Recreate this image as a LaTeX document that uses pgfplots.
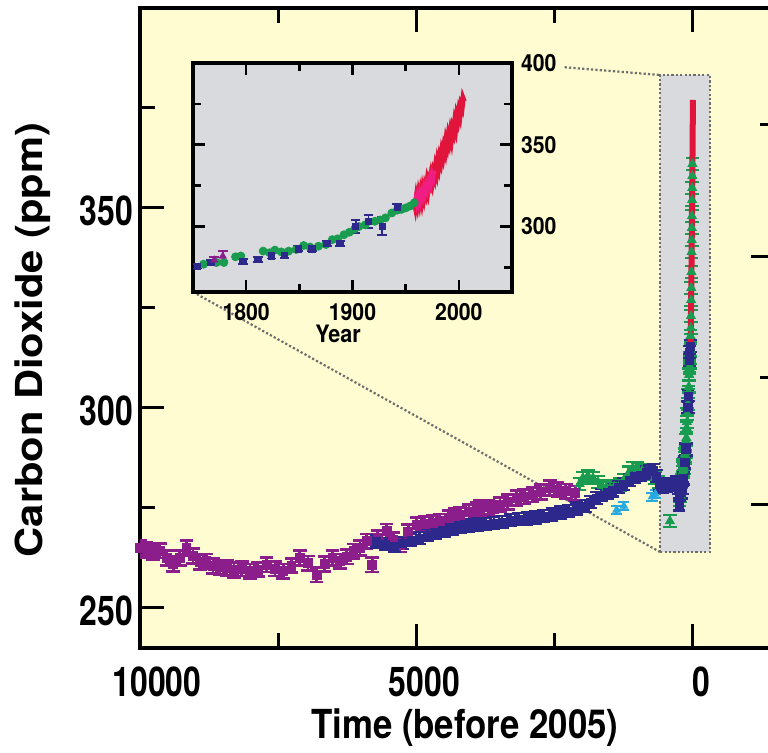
\documentclass[border=0pt]{standalone}
\usepackage{fontspec}
\setmainfont{TeX Gyre Heros}
\newfontfamily\condfont[FakeStretch=0.78]{TeX Gyre Heros}
\newfontfamily\labfont[FakeStretch=0.87]{TeX Gyre Heros}
\newfontfamily\widefont[FakeStretch=1.12]{TeX Gyre Heros}
\newfontfamily\insetfont[FakeStretch=0.9]{TeX Gyre Heros}
\usepackage{pgfplots}
\pgfplotsset{compat=1.18}
\definecolor{cream}{RGB}{254,252,208}
\definecolor{insetgrey}{RGB}{216,218,222}
\definecolor{cpurple}{RGB}{140,30,140}
\definecolor{cnavy}{RGB}{45,40,140}
\definecolor{cgreen}{RGB}{25,155,80}
\definecolor{ccyan}{RGB}{40,170,225}
\definecolor{cred}{RGB}{225,20,60}
\definecolor{cpink}{RGB}{240,30,130}
\definecolor{dotgrey}{RGB}{110,110,110}
\begin{document}
\begin{tikzpicture}
\path[use as bounding box, clip] (0,0) rectangle (384pt,376.5pt);
% ---------------- main axis ----------------
\begin{axis}[
  name=main, at={(70pt,52.5pt)}, anchor=south west,
  scale only axis, width=318.5pt, height=320pt,
  x dir=reverse, xmin=-1520, xmax=10000, ymin=240, ymax=400,
  axis background/.style={fill=cream},
  axis line style={line width=2pt},
  xtick={10000,5000,0}, xticklabels={\hspace*{9pt}10000,5000,0},
  minor xtick={7500,2500},
  ytick={250,300,350}, minor ytick={275,325,375},
  ytick pos=left,
  tick align=inside,
  major tick length=12pt, minor tick length=7.5pt,
  every tick/.style={black, line width=1.5pt},
  tick label style={font=\condfont\bfseries\fontsize{20.5}{24}\selectfont},
  /pgf/number format/assume math mode=true,
  xticklabel style={anchor=base, yshift=-24.5pt, xshift=4pt},
  yticklabel style={yshift=-1.5pt},
  xlabel={Time (before 2005)}, ylabel={Carbon Dioxide (ppm)},
  xlabel style={font=\labfont\bfseries\fontsize{20}{24}\selectfont, inner sep=0pt,
    at={(axis description cs:0.51,0)}, anchor=base, yshift=-45.5pt},
  ylabel style={font=\widefont\bfseries\fontsize{18.6}{22}\selectfont, inner sep=0pt,
    at={(axis description cs:-0.168,0.481)}, anchor=center},
]
\fill[insetgrey] (axis cs:596,264) rectangle (axis cs:-308,383.25);
\draw[dotgrey, line width=1.1pt, dash pattern=on 1.1pt off 1.1pt] (axis cs:596,264) rectangle (axis cs:-308,383.25);
\draw[dotgrey, line width=1.1pt, dash pattern=on 1.1pt off 1.1pt] (axis cs:3272,386.25) -- (axis cs:596,383.25);
\draw[dotgrey, line width=1.1pt, dash pattern=on 1.1pt off 1.1pt] (axis cs:9041,329) -- (axis cs:596,264);
% purple series
\addplot[only marks, mark=square*, mark size=2.2pt, cpurple,
  error bars/.cd, y dir=both, y fixed=1.8,
  error bar style={line width=1.4pt},
  error mark options={rotate=90, line width=1.4pt, mark size=3.4pt}]
coordinates {
(10000,265.0) (9880,264.5) (9760,264.0) (9640,264.3) (9520,262.5) (9400,261.0)
(9280,262.5) (9160,265.0) (9040,263.0) (8920,261.5) (8800,261.7) (8680,260.5)
(8560,260.2) (8430,260.0) (8300,259.5) (8160,259.8) (8010,259.2) (7870,259.6)
(7710,260.8) (7560,259.8) (7410,259.2) (7260,260.6) (7110,262.5) (6960,261.2)
(6805,258.3) (6660,261.0) (6520,262.5) (6380,261.7) (6260,262.8) (6140,264.2)
(6020,265.0) (5900,266.7) (5800,260.8) (5700,267.5) (5540,269.2) (5420,267.0)
(5300,265.8) (5150,269.0) (5000,270.8) (4850,271.0) (4700,271.3) (4575,271.7)
(4420,272.5) (4300,273.0) (4210,273.3) (4050,274.0) (3900,274.5) (3850,275.0)
(3700,275.2) (3600,274.8) (3490,275.8) (3350,276.5) (3190,277.5) (3050,277.8)
(2900,278.3) (2750,279.0) (2590,280.0) (2450,279.6) (2300,279.2) (2130,278.7)
};
% light blue series
\addplot[only marks, mark=triangle*, mark size=2.2pt, ccyan,
  error bars/.cd, y dir=both, y fixed=1.0,
  error bar style={line width=1.2pt},
  error mark options={rotate=90, line width=1.2pt, mark size=2.8pt}]
coordinates {(1380,274.5) (1250,275.5) (740,277.8) (680,278.5)};
% green series
\addplot[only marks, mark=triangle*, mark size=2.6pt, cgreen,
  error bars/.cd, y dir=both, y fixed=1.5,
  error bar style={line width=1.3pt},
  error mark options={rotate=90, line width=1.3pt, mark size=3.4pt}]
coordinates {
(2050,281.0) (1990,282.5) (1900,283.0) (1808,282.5) (1720,281.5) (1640,280.5)
(1560,280.0) (1500,280.0) (1420,280.3) (1320,280.8) (1250,282.0) (1160,283.8)
(1085,285.0) (1000,284.8) (920,284.3) (832,284.0) (760,283.5) (690,282.5)
(620,281.5) (416,271.7)
(245,277) (233,278) (226,278) (215,281.5) (210,282) (189,285) (183,284)
(178,285.6) (172,284.5) (165,285) (158,286) (151,288.4) (145,287.5) (137,288)
(130,289) (124,292) (119,292.5) (113,295) (108,296.5) (103,298.5) (99,300)
(93,301) (84,303.2) (79,304) (74,305.3) (68,308.3) (63,310) (59,310.5)
(55,311.4) (51,312.5) (47,314.5)
(43,318) (39,320) (36,323) (33,327) (30,330) (27,334) (24,339) (22,342)
(20,345) (18,348) (15,352) (13,355) (11,358) (9,361)
};
% navy series
\addplot[only marks, mark=square*, mark size=2pt, cnavy,
  error bars/.cd, y dir=both, y fixed=1.5,
  error bar style={line width=1.3pt},
  error mark options={rotate=90, line width=1.3pt, mark size=3.2pt}]
coordinates {
(5720,266.6) (5560,266.0) (5400,265.5) (5250,266.2) (5100,267.0) (4950,267.5)
(4800,268.2) (4650,268.8) (4500,269.3) (4350,269.8) (4200,270.3) (4050,270.6)
(3900,270.8) (3750,271.0) (3600,271.2) (3450,271.5) (3300,272.0) (3150,272.2)
(3000,272.4) (2850,272.6) (2700,273.0) (2550,273.4) (2400,273.8) (2250,274.2)
(2100,274.8) (1950,275.5) (1850,276.5) (1750,277.5) (1650,278.2) (1550,278.8)
(1450,279.3) (1350,280.2) (1250,281.0) (1150,282.0) (1050,282.8) (950,283.2)
(850,283.8) (780,284.2) (720,284.5) (660,283.0) (600,280.8) (540,280.3)
(480,280.5) (420,281.0) (360,280.8) (300,281.5) (270,280.0)
(251,275.8) (238,278.2) (208,278.8) (194,280) (181,282) (169,282.3) (156,286.4)
(143,286.4) (129,289.6) (117,289.6) (102,300.2) (90,303) (77,300.2) (63,312)
(55,314) (50,315.5)
};
% instrumental record
\addplot[cred, line width=3pt] coordinates {
(47,313.8) (45,315.4) (40,318.5) (35,324.2) (30,329.6) (25,337.3) (20,344.9)
(15,353.0) (10,359.5) (5,368.2) (0,377.0)
};
\end{axis}
% ---------------- right-hand ticks ----------------
\begin{axis}[
  at={(70pt,52.5pt)}, anchor=south west,
  scale only axis, width=318.5pt, height=320pt,
  xmin=-1520, xmax=10000, ymin=240, ymax=400,
  hide x axis, xtick=\empty, xticklabels={},
  axis y line*=right,
  axis line style={line width=2pt},
  ytick={275.75,337.75}, minor ytick={307.5,370.75}, yticklabels={},
  tick align=inside, major tick length=13pt, minor tick length=8.5pt,
  every tick/.style={black, line width=1.5pt},
]
\addplot[draw=none] coordinates {(0,300)};
\end{axis}
% ---------------- inset ----------------
\begin{axis}[
  at={(96.5pt,230.5pt)}, anchor=south west,
  scale only axis, width=159.5pt, height=114.5pt,
  xmin=1750, xmax=2050, ymin=260, ymax=400,
  axis background/.style={fill=insetgrey},
  axis line style={line width=1.6pt},
  xtick={1800,1900,2000}, minor xtick={1850,1950},
  ytick={300,350,400}, minor ytick={275,325,375},
  yticklabel pos=right,
  tick align=inside, major tick length=6pt, minor tick length=4pt,
  every tick/.style={black, line width=1.3pt},
  tick label style={font=\insetfont\bfseries\fontsize{11.8}{14}\selectfont},
  /pgf/number format/assume math mode=true,
  /pgf/number format/1000 sep={},
  xticklabel style={anchor=base, yshift=-14.2pt},
  yticklabel style={fill=cream, xshift=1pt},
  xlabel={Year},
  xlabel style={font=\insetfont\bfseries\fontsize{12}{14}\selectfont, at={(axis description cs:0.455,0)}, anchor=base, yshift=-25.5pt},
]
\addplot[only marks, mark=*, mark size=2pt, cgreen] coordinates {
(1760,277) (1772,278) (1779,278) (1790,281.5) (1795,282) (1816,285) (1822,284)
(1827,285.6) (1833,284.5) (1840,285) (1847,286) (1854,288.4) (1860,287.5)
(1868,288) (1875,289) (1881,292) (1886,292.5) (1892,295) (1897,296.5)
(1902,298.5) (1906,300) (1912,301) (1921,303.2) (1926,304) (1931,305.3)
(1937,308.3) (1942,310) (1946,310.5) (1950,311.4) (1954,312.5) (1958,314.5)
};
\addplot[only marks, mark=square*, mark size=1.6pt, cnavy,
  error bars/.cd, y dir=both, y explicit,
  error bar style={line width=0.9pt},
  error mark options={rotate=90, line width=0.9pt, mark size=2.4pt}]
coordinates {
(1754,275.8) +- (0,1.5) (1767,278.2) +- (0,1.5) (1797,278.8) +- (0,1.5)
(1811,280) +- (0,1.5) (1824,282) +- (0,1.5) (1836,282.3) +- (0,1.5)
(1849,286.4) +- (0,1.5) (1862,286.4) +- (0,1.5) (1876,289.6) +- (0,1.5)
(1888,289.6) +- (0,1.5) (1903,300.2) +- (0,4) (1915,303) +- (0,4)
(1928,300.2) +- (0,5.5) (1942,312) +- (0,2)
};
\addplot[only marks, mark=triangle*, mark size=2pt, cpurple,
  error bars/.cd, y dir=both, y explicit,
  error bar style={line width=0.9pt},
  error mark options={rotate=90, line width=0.9pt, mark size=2.4pt}]
coordinates {(1770,279.5) +- (0,2) (1778,281.9) +- (0,3)};
\addplot[cred, line width=2.6pt] coordinates {
(1958,315.8) (1959,312.5) (1960,317.4) (1961,314.1) (1962,319.0) (1963,315.5)
(1964,320.1) (1965,316.5) (1966,321.9) (1967,318.7) (1968,323.6) (1969,321.1)
(1970,326.2) (1971,322.8) (1972,328.0) (1973,326.2) (1974,330.7) (1975,327.6)
(1976,332.5) (1977,330.3) (1978,335.9) (1979,333.3) (1980,339.3) (1981,336.6)
(1982,342.0) (1983,339.7) (1984,345.4) (1985,342.9) (1986,348.1) (1987,345.8)
(1988,352.2) (1989,349.7) (1990,355.0) (1991,352.2) (1992,357.0) (1993,353.7)
(1994,359.5) (1995,357.5) (1996,363.2) (1997,360.4) (1998,367.3) (1999,365.0)
(2000,370.2) (2001,367.8) (2002,374.0) (2003,372.5) (2004,378.2) (2005,376.5)
};
\addplot[cpink, line width=1.8pt] coordinates {
(1958,312.0) (1959,316.0) (1960,313.5) (1961,318.2) (1962,315.0) (1963,319.8)
(1964,316.2) (1965,320.6) (1966,318.0) (1967,322.8) (1968,319.8) (1969,325.2)
(1970,322.4) (1971,326.8) (1972,324.2) (1973,330.0) (1974,326.8) (1975,331.5)
(1976,329.0) (1977,334.2)
};
\end{axis}
\end{tikzpicture}
\end{document}
